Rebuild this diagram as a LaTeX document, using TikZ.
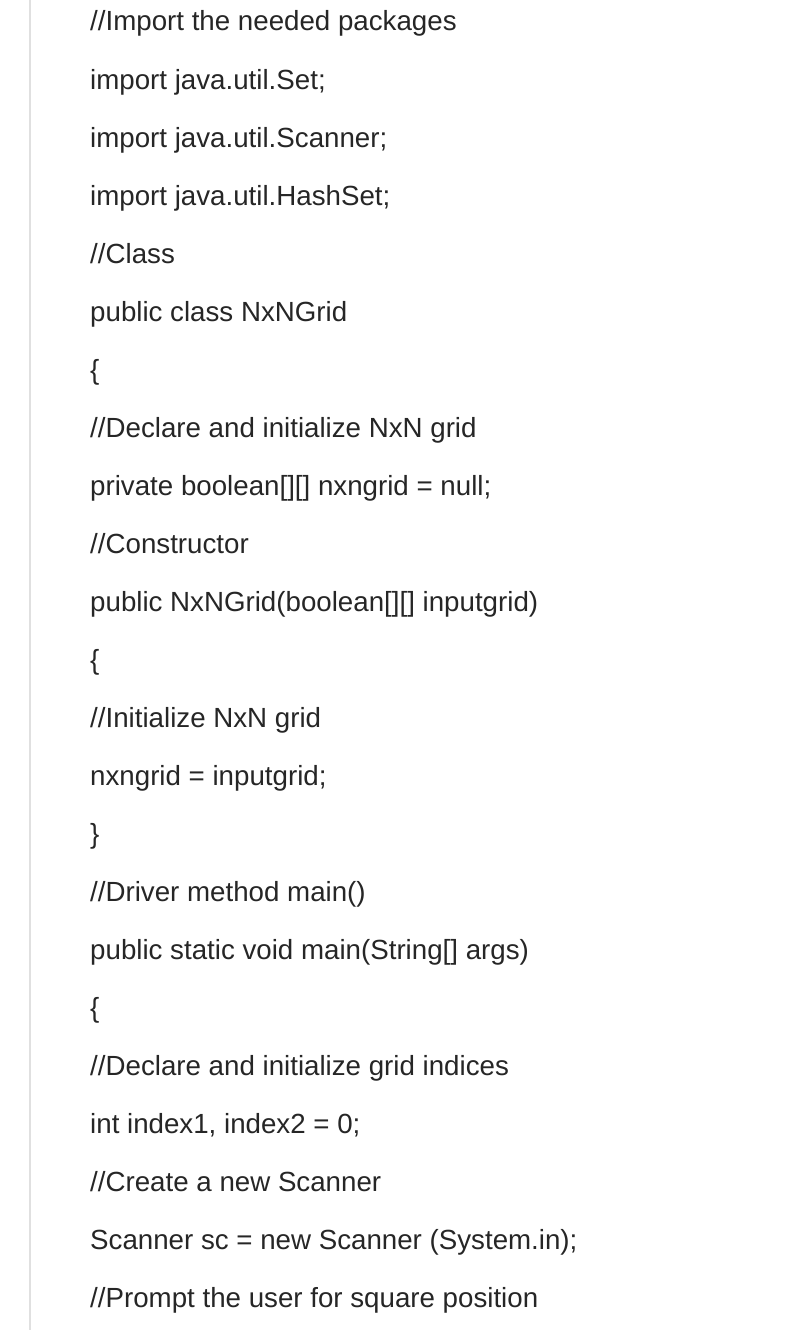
\documentclass[tikz,border=0pt]{standalone}
\usepackage{fontspec}
\setmainfont{Liberation Sans}
\begin{document}
\begin{tikzpicture}[x=1pt,y=-1pt,
  code/.style={anchor=base west,inner sep=0pt,font=\fontsize{27.7}{32}\selectfont,text=black!85}]
\useasboundingbox (0,0) rectangle (800,1330);
\fill[white] (0,0) rectangle (800,1330);
\draw[line width=2pt,black!12] (30,0) -- (30,1330);
\foreach \t [count=\i from 0] in {
{//Import the needed packages},
{import java.util.Set;},
{import java.util.Scanner;},
{import java.util.HashSet;},
{//Class},
{public class NxNGrid},
{\{},
{//Declare and initialize NxN grid},
{private boolean[][] nxngrid = null;},
{//Constructor},
{public NxNGrid(boolean[][] inputgrid)},
{\{},
{//Initialize NxN grid},
{nxngrid = inputgrid;},
{\}},
{//Driver method main()},
{public static void main(String[] args)},
{\{},
{//Declare and initialize grid indices},
{int index1, index2 = 0;},
{//Create a new Scanner},
{Scanner sc = new Scanner (System.in);},
{//Prompt the user for square position}}
  \node[code] (l\i) at (90,{31+58*\i}) {\t};
\end{tikzpicture}
\end{document}
